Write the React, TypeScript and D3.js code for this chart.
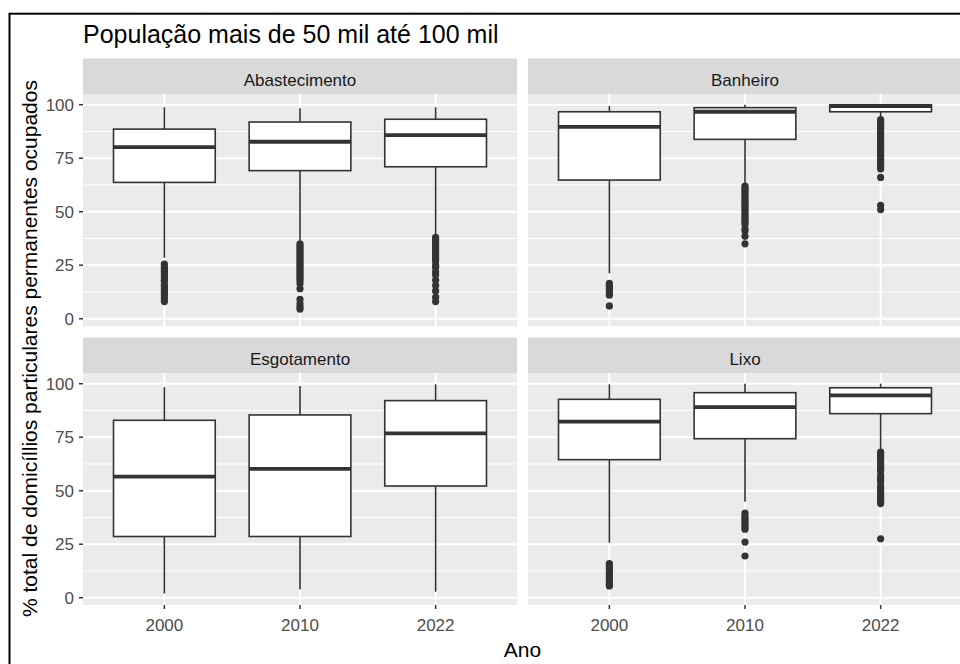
import React from "react";
import * as d3 from "d3";

// ---------- data ----------
const years = ["2000", "2010", "2022"];
const facets = ["Abastecimento", "Banheiro", "Esgotamento", "Lixo"];
const yTicks = [0, 25, 50, 75, 100];
const yMinor = [12.5, 37.5, 62.5, 87.5];

// [lower whisker, Q1, median, Q3, upper whisker] per year
const abastecimentoStats = [
  [28.5, 63.7, 80.2, 88.6, 98.8],
  [36.5, 69.2, 82.7, 91.9, 98.3],
  [39.6, 71.0, 85.8, 93.2, 98.8],
];
const banheiroStats = [
  [21.2, 64.8, 89.6, 96.7, 99.4],
  [63.3, 83.8, 96.7, 98.6, 100],
  [93.6, 96.7, 99.4, 99.9, 100],
];
const esgotamentoStats = [
  [2.0, 28.6, 56.6, 82.9, 98.4],
  [3.9, 28.6, 60.2, 85.4, 98.9],
  [2.8, 52.2, 76.8, 92.1, 99.7],
];
const lixoStats = [
  [25.7, 64.5, 82.3, 92.7, 99.7],
  [44.8, 74.3, 89.1, 95.8, 100],
  [69.2, 86.0, 94.5, 98.1, 100],
];

const abastecimentoOutliers = [
  [25.5, 24, 23, 22, 21, 20, 19, 18, 17.5, 16, 15, 14, 13, 12, 11, 9.5, 8],
  [35, 34, 33, 32, 31, 30, 29, 28, 27, 26, 25, 24, 23, 22, 21, 20, 19, 18, 16.5, 14, 9, 7, 5.5, 4.5],
  [38, 37, 36, 35, 34, 33, 32, 31, 30, 29, 28, 27, 25, 24, 22, 20.5, 18, 15.5, 13, 10, 8],
];
const banheiroOutliers = [
  [16.5, 15.5, 15, 14, 13.5, 12.5, 11, 6],
  [62, 61, 60, 59, 58, 57, 56, 55, 54, 53, 52, 51, 50, 49, 48, 47, 46, 45, 44, 42, 41, 38.5, 35],
  [93, 92, 91.5, 91, 90, 89, 88, 87, 86, 85, 84, 83, 82, 81, 80, 79, 78, 77, 76, 75, 74, 73, 72, 71, 70, 66, 53, 51],
];
const esgotamentoOutliers: number[][] = [[], [], []];
const lixoOutliers = [
  [16, 15, 14, 13, 12, 11, 10, 9, 8, 7, 6, 5.5],
  [39.5, 38, 37, 36, 35, 34, 33, 32, 26, 19.5],
  [68, 67, 66, 65, 64, 63, 62, 61, 60, 59, 57, 56, 55, 54, 52, 51, 50, 49, 48, 47, 46, 45, 44, 27.5],
];

const title = "População mais de 50 mil até 100 mil";
const xTitle = "Ano";
const yTitle = "% total de domicíllios particulares permanentes ocupados";

const statsByFacet = [abastecimentoStats, banheiroStats, esgotamentoStats, lixoStats];
const outliersByFacet = [abastecimentoOutliers, banheiroOutliers, esgotamentoOutliers, lixoOutliers];

// ---------- layout ----------
const W = 960;
const H = 664;
const colX = [83, 528];
const panelW = 434;
const stripTop = [58.5, 337.5];
const stripH = 35.5;
const panelTop = [94, 373];
const panelH = 232;
const FONT = "'Liberation Sans', Arial, Helvetica, sans-serif";

const PANEL_BG = "#EBEBEB";
const STRIP_BG = "#D9D9D9";
const DARK = "#333333";

function Panel({ idx }: { idx: number }) {
  const col = idx % 2;
  const row = Math.floor(idx / 2);
  const x0 = colX[col];
  const y0 = panelTop[row];
  const x = d3.scalePoint<string>().domain(years).range([x0, x0 + panelW]).padding(0.6);
  const y = d3.scaleLinear().domain([-3.4, 105]).range([y0 + panelH, y0]);
  const bw = x.step() * 0.75;
  const stats = statsByFacet[idx];
  const outs = outliersByFacet[idx];
  return (
    <g>
      {/* strip */}
      <rect x={x0} y={stripTop[row]} width={panelW} height={stripH} fill={STRIP_BG} />
      <text
        x={x0 + panelW / 2}
        y={stripTop[row] + 27.5}
        textAnchor="middle"
        fontSize={17}
        fill="#1A1A1A"
        fontFamily={FONT}
      >
        {facets[idx]}
      </text>
      {/* panel */}
      <rect x={x0} y={y0} width={panelW} height={panelH} fill={PANEL_BG} />
      {yMinor.map((t) => (
        <line key={"mi" + t} x1={x0} x2={x0 + panelW} y1={y(t)} y2={y(t)} stroke="#FFFFFF" strokeWidth={1} />
      ))}
      {yTicks.map((t) => (
        <line key={"ma" + t} x1={x0} x2={x0 + panelW} y1={y(t)} y2={y(t)} stroke="#FFFFFF" strokeWidth={2} />
      ))}
      {years.map((yr) => (
        <line key={"vx" + yr} x1={x(yr)!} x2={x(yr)!} y1={y0} y2={y0 + panelH} stroke="#FFFFFF" strokeWidth={2} />
      ))}
      {/* boxes */}
      {years.map((yr, i) => {
        const [lo, q1, med, q3, hi] = stats[i];
        const cx = x(yr)!;
        return (
          <g key={"b" + yr}>
            <line x1={cx} x2={cx} y1={y(hi)} y2={y(q3)} stroke={DARK} strokeWidth={1.6} />
            <line x1={cx} x2={cx} y1={y(q1)} y2={y(lo)} stroke={DARK} strokeWidth={1.6} />
            <rect
              x={cx - bw / 2}
              y={y(q3)}
              width={bw}
              height={y(q1) - y(q3)}
              fill="#FFFFFF"
              stroke={DARK}
              strokeWidth={1.6}
            />
            <line x1={cx - bw / 2} x2={cx + bw / 2} y1={y(med)} y2={y(med)} stroke={DARK} strokeWidth={3.8} />
            {outs[i].map((v, k) => (
              <circle key={k} cx={cx} cy={y(v)} r={3.6} fill={DARK} />
            ))}
          </g>
        );
      })}
      {/* y axis (left column only) */}
      {col === 0 &&
        yTicks.map((t) => (
          <g key={"yt" + t}>
            <line x1={x0 - 4} x2={x0} y1={y(t)} y2={y(t)} stroke={DARK} strokeWidth={1.5} />
            <text
              x={x0 - 9}
              y={y(t)}
              dy="0.35em"
              textAnchor="end"
              fontSize={17}
              fill="#4D4D4D"
              fontFamily={FONT}
            >
              {t}
            </text>
          </g>
        ))}
      {/* x axis (bottom row only) */}
      {row === 1 &&
        years.map((yr) => (
          <g key={"xt" + yr}>
            <line x1={x(yr)!} x2={x(yr)!} y1={y0 + panelH} y2={y0 + panelH + 4} stroke={DARK} strokeWidth={1.5} />
            <text
              x={x(yr)!}
              y={631}
              textAnchor="middle"
              fontSize={17}
              fill="#4D4D4D"
              fontFamily={FONT}
            >
              {yr}
            </text>
          </g>
        ))}
    </g>
  );
}

export default function App() {
  return (
    <svg
      width={W}
      height={H}
      viewBox={`0 0 ${W} ${H}`}
      style={{ position: "absolute", left: 0, top: 0, display: "block", background: "#FFFFFF" }}
    >
      <rect x={0} y={0} width={W} height={H} fill="#FFFFFF" />
      <rect x={9.5} y={13.7} width={1000} height={700} fill="none" stroke="#000000" strokeWidth={2} />
      <text x={83} y={43} fontSize={25} fill="#000000" fontFamily={FONT}>
        {title}
      </text>
      {facets.map((f, i) => (
        <Panel key={f} idx={i} />
      ))}
      <text x={522.5} y={657} textAnchor="middle" fontSize={21} fill="#000000" fontFamily={FONT}>
        {xTitle}
      </text>
      <text
        transform={`translate(37, 348.5) rotate(-90)`}
        textAnchor="middle"
        fontSize={21}
        fill="#000000"
        fontFamily={FONT}
      >
        {yTitle}
      </text>
    </svg>
  );
}
